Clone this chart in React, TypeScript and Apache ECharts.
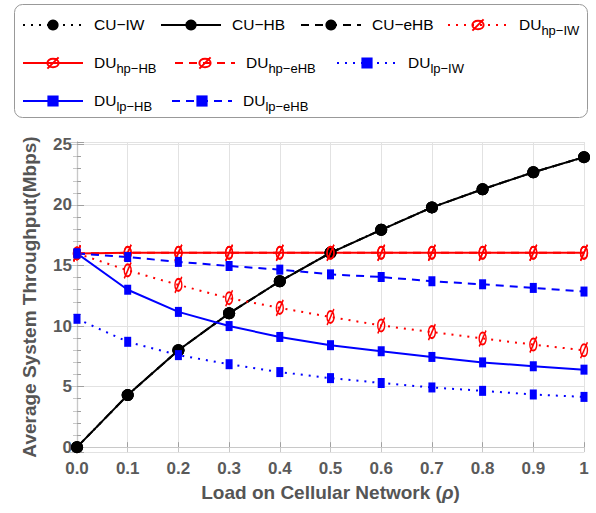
import React, { useEffect, useRef } from 'react';
import * as echarts from 'echarts';

const rho = [0, 0.1, 0.2, 0.3, 0.4, 0.5, 0.6, 0.7, 0.8, 0.9, 1];
const cuIW = [0, 4.3, 8.0, 11.05, 13.7, 16.05, 17.95, 19.8, 21.3, 22.7, 23.95];
const cuHB = [0, 4.3, 8.0, 11.05, 13.7, 16.05, 17.95, 19.8, 21.3, 22.7, 23.95];
const cuEHB = [0, 4.3, 8.0, 11.05, 13.7, 16.05, 17.95, 19.8, 21.3, 22.7, 23.95];
const duHpIW = [16.0, 14.6, 13.4, 12.3, 11.5, 10.75, 10.05, 9.5, 8.97, 8.47, 8.0];
const duHpHB = [16.0, 16.05, 16.05, 16.05, 16.05, 16.05, 16.05, 16.05, 16.05, 16.05, 16.05];
const duHpEHB = [16.0, 16.05, 16.05, 16.05, 16.05, 16.05, 16.05, 16.05, 16.05, 16.05, 16.05];
const duLpIW = [10.6, 8.7, 7.6, 6.85, 6.2, 5.7, 5.3, 4.93, 4.65, 4.35, 4.15];
const duLpHB = [16.0, 13.0, 11.17, 10.0, 9.1, 8.42, 7.92, 7.45, 7.0, 6.68, 6.4];
const duLpEHB = [16.0, 15.7, 15.3, 14.96, 14.66, 14.27, 14.05, 13.7, 13.45, 13.15, 12.85];

const yTicks = [0, 5, 10, 15, 20, 25];

const FONT = '"Liberation Sans", Arial, sans-serif';
const RED = '#ff0000';
const BLUE = '#0000ff';
const BLACK = '#000000';
const DOT: number[] = [2, 6];
const DASH: number[] = [8, 6];
const SLASHO = 'path://M7,2 C10,2 12,4.7 12,8 C12,11.3 10,14 7,14 C4,14 2,11.3 2,8 C2,4.7 4,2 7,2 Z M2,16 L12,0';

type SDef = { name: string; label: [string, string]; data: number[]; color: string; dash: any; kind: 'circle' | 'slash' | 'rect' };

const defs: SDef[] = [
  { name: 'CU−IW', label: ['CU−IW', ''], data: cuIW, color: BLACK, dash: DOT, kind: 'circle' },
  { name: 'CU−eHB', label: ['CU−eHB', ''], data: cuEHB, color: BLACK, dash: DASH, kind: 'circle' },
  { name: 'CU−HB', label: ['CU−HB', ''], data: cuHB, color: BLACK, dash: 'solid', kind: 'circle' },
  { name: 'DU hp−IW', label: ['DU', 'hp−IW'], data: duHpIW, color: RED, dash: DOT, kind: 'slash' },
  { name: 'DU hp−eHB', label: ['DU', 'hp−eHB'], data: duHpEHB, color: RED, dash: DASH, kind: 'slash' },
  { name: 'DU hp−HB', label: ['DU', 'hp−HB'], data: duHpHB, color: RED, dash: 'solid', kind: 'slash' },
  { name: 'DU lp−IW', label: ['DU', 'lp−IW'], data: duLpIW, color: BLUE, dash: DOT, kind: 'rect' },
  { name: 'DU lp−eHB', label: ['DU', 'lp−eHB'], data: duLpEHB, color: BLUE, dash: DASH, kind: 'rect' },
  { name: 'DU lp−HB', label: ['DU', 'lp−HB'], data: duLpHB, color: BLUE, dash: 'solid', kind: 'rect' },
];

// legend placement: [name, left, top]
const legendPos: [string, number, number][] = [
  ['CU−IW', 22, 16],
  ['CU−HB', 160, 16],
  ['CU−eHB', 300, 16],
  ['DU hp−IW', 447, 16],
  ['DU hp−HB', 22, 54],
  ['DU hp−eHB', 174, 54],
  ['DU lp−IW', 336, 54],
  ['DU lp−HB', 22, 92],
  ['DU lp−eHB', 171, 92],
];

const labelOf = (n: string) => {
  const d = defs.find((x) => x.name === n)!;
  return d.label[1] ? `{m|${d.label[0]}}{s|${d.label[1]}}` : `{m|${d.label[0]}}`;
};

export default function App() {
  const ref = useRef<HTMLDivElement>(null);
  useEffect(() => {
    if (!ref.current) return;
    const chart = echarts.init(ref.current, undefined, { renderer: 'svg' });
    const series = defs.map((d) => {
      const base: any = {
        name: d.name,
        type: 'line',
        data: rho.map((x, i) => [x, d.data[i]]),
        lineStyle: { color: d.color, width: 2, type: d.dash },
        symbolKeepAspect: true,
      };
      if (d.kind === 'circle') {
        base.symbol = 'circle';
        base.symbolSize = 12;
        base.itemStyle = { color: d.color };
      } else if (d.kind === 'slash') {
        base.symbol = SLASHO;
        base.symbolSize = [11, 16];
        base.itemStyle = { color: 'rgba(255,0,0,0)', borderColor: d.color, borderWidth: 1.7 };
      } else {
        base.symbol = 'rect';
        base.symbolSize = [7, 10];
        base.itemStyle = { color: d.color };
      }
      return base;
    });
    const legends = legendPos.map(([n, left, top]) => ({
      data: [n],
      left,
      top,
      itemWidth: 60,
      itemHeight: 14,
      itemGap: 0,
      padding: 0,
      formatter: labelOf,
      textStyle: {
        fontFamily: FONT,
        color: '#000',
        rich: {
          m: { fontSize: 15.5, fontFamily: FONT, color: '#000', lineHeight: 18, verticalAlign: 'top', padding: [0, 0, 0, 6] },
          s: { fontSize: 13, fontFamily: FONT, color: '#000', lineHeight: 14, verticalAlign: 'top', padding: [8, 0, 0, 0] },
        },
      },
    }));
    const axisGrey = '#a0a0a0';
    chart.setOption({
      animation: false,
      backgroundColor: '#ffffff',
      legend: legends,
      graphic: [
        {
          type: 'rect',
          shape: { x: 14.5, y: 4.5, width: 573, height: 113, r: 8 },
          style: { fill: 'none', stroke: '#999', lineWidth: 1 },
          silent: true,
        },
      ],
      grid: { left: 77, right: 12, top: 142, bottom: 61, containLabel: false },
      xAxis: [
        {
          type: 'value',
          min: 0,
          max: 1,
          interval: 0.1,
          name: 'Load on Cellular Network ({i|ρ})',
          nameLocation: 'middle',
          nameGap: 31,
          nameTextStyle: {
            fontFamily: FONT,
            fontSize: 19,
            fontWeight: 'bold',
            color: '#555',
            rich: { i: { fontFamily: FONT, fontSize: 19, fontWeight: 'bold', fontStyle: 'italic', color: '#555' } },
          },
          axisLine: { show: true, lineStyle: { color: axisGrey, width: 1.2 } },
          axisTick: { show: true, inside: true, length: 5, lineStyle: { color: axisGrey } },
          axisLabel: {
            margin: 8,
            fontFamily: FONT,
            fontSize: 17,
            fontWeight: 'bold',
            color: '#5a5a5a',
            formatter: (v: number) => (Math.abs(v - 1) < 1e-9 ? '1' : v.toFixed(1)),
          },
          splitLine: { show: true, lineStyle: { color: '#e2e2e2', width: 1 } },
        },
        {
          type: 'value',
          position: 'top',
          min: 0,
          max: 1,
          interval: 0.1,
          axisLine: { show: true, lineStyle: { color: '#c8c8c8', width: 1 } },
          axisTick: { show: true, inside: true, length: 5, lineStyle: { color: '#c8c8c8' } },
          axisLabel: { show: false },
          splitLine: { show: false },
        },
      ],
      yAxis: [
        {
          type: 'value',
          min: -0.4,
          max: 25.2,
          splitNumber: 5,
          name: 'Average System Throughput(Mbps)',
          nameLocation: 'middle',
          nameGap: 38,
          nameTextStyle: { fontFamily: FONT, fontSize: 19, fontWeight: 'bold', color: '#555' },
          axisLine: { show: true, lineStyle: { color: axisGrey, width: 1.2 } },
          axisTick: { show: true, inside: true, length: 7, lineStyle: { color: axisGrey } },
          minorTick: { show: true, splitNumber: 5, length: 4, lineStyle: { color: axisGrey } },
          axisLabel: {
            margin: 5,
            fontFamily: FONT,
            fontSize: 17,
            fontWeight: 'bold',
            color: '#5a5a5a',
            formatter: (v: number) => (yTicks.some((t) => Math.abs(t - v) < 1e-6) ? String(Math.round(v)) : ''),
          },
          splitLine: { show: true, lineStyle: { color: '#e2e2e2', width: 1 } },
        },
        {
          type: 'value',
          position: 'right',
          min: -0.4,
          max: 25.2,
          splitNumber: 5,
          axisLine: { show: true, lineStyle: { color: '#c8c8c8', width: 1 } },
          axisTick: { show: true, inside: true, length: 7, lineStyle: { color: '#c8c8c8' } },
          minorTick: { show: true, splitNumber: 5, length: 4, lineStyle: { color: '#c8c8c8' } },
          axisLabel: { show: false },
          splitLine: { show: false },
        },
      ],
      series,
    });
    return () => chart.dispose();
  }, []);
  return <div ref={ref} style={{ width: 596, height: 513, position: 'absolute', left: 0, top: 0 }} />;
}
